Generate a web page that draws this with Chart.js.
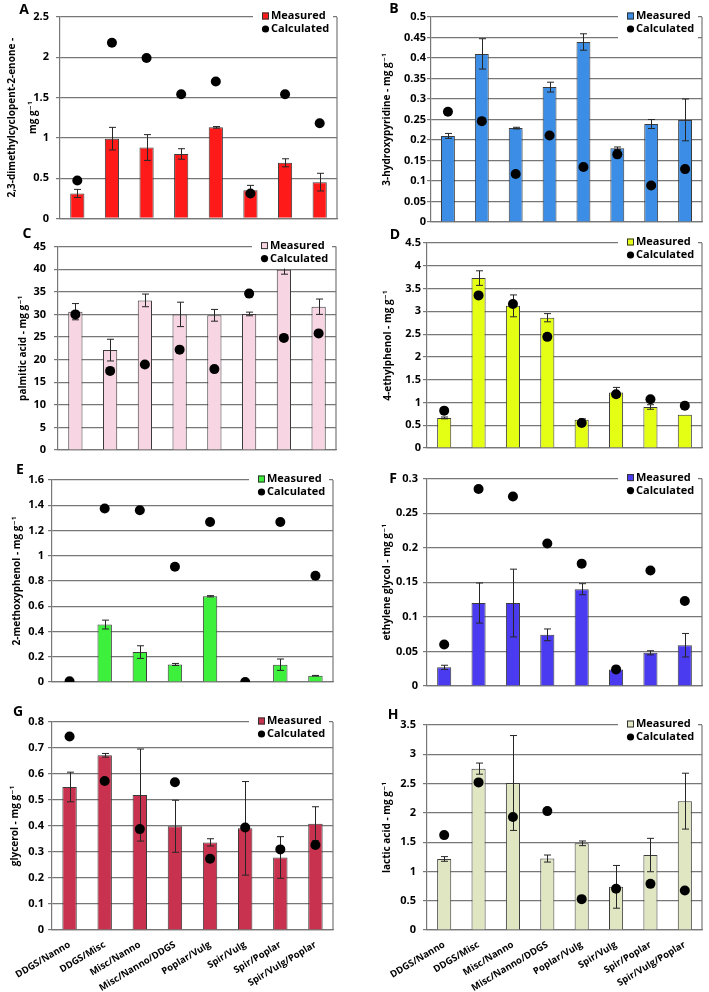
<!DOCTYPE html>
<html>
<head>
<meta charset="utf-8">
<script src="https://cdn.jsdelivr.net/npm/chart.js@4.4.0/dist/chart.umd.min.js"></script>
<style>
  body { margin: 0; background: #fff; }
  #page { position: relative; width: 709px; height: 992px; overflow: hidden; }
  canvas { position: absolute; }
  .tag { position: absolute; font: bold 14px "Open Sans", "DejaVu Sans", sans-serif; transform: translate(-50%, -50%); }
</style>
</head>
<body>
<div id="page"></div>
<script>
// blend categories (x axis)
const categories = ["DDGS/Nanno", "DDGS/Misc", "Misc/Nanno", "Misc/Nanno/DDGS",
  "Poplar/Vulg", "Spir/Vulg", "Spir/Poplar", "Spir/Vulg/Poplar"];

// A - 2,3-dimethylcyclopent-2-enone
const measuredA = [0.31, 0.99, 0.88, 0.80, 1.13, 0.35, 0.69, 0.45];
const errorA = [0.05, 0.14, 0.16, 0.065, 0.01, 0.06, 0.05, 0.11];
const calculatedA = [0.47, 2.18, 1.99, 1.54, 1.70, 0.31, 1.54, 1.18];

// B - 3-hydroxypyridine
const measuredB = [0.21, 0.41, 0.229, 0.329, 0.439, 0.18, 0.239, 0.249];
const errorB = [0.006, 0.037, 0.002, 0.012, 0.02, 0.003, 0.011, 0.051];
const calculatedB = [0.269, 0.246, 0.117, 0.211, 0.134, 0.165, 0.089, 0.129];

// C - palmitic acid
const measuredC = [30.6, 22.1, 33.1, 30.0, 29.8, 30.1, 39.9, 31.7];
const errorC = [1.8, 2.4, 1.4, 2.7, 1.3, 0.4, 1.0, 1.7];
const calculatedC = [30.0, 17.5, 18.9, 22.2, 17.9, 34.6, 24.8, 25.8];

// D - 4-ethylphenol
const measuredD = [0.66, 3.73, 3.12, 2.86, 0.62, 1.22, 0.90, 0.73];
const errorD = [0.02, 0.16, 0.24, 0.09, 0.02, 0.11, 0.05, 0];
const calculatedD = [0.82, 3.35, 3.16, 2.44, 0.55, 1.18, 1.07, 0.93];

// E - 2-methoxyphenol
const measuredE = [0, 0.455, 0.237, 0.139, 0.679, 0, 0.137, 0.05];
const errorE = [0, 0.035, 0.05, 0.008, 0.005, 0, 0.045, 0.002];
const calculatedE = [0.005, 1.374, 1.36, 0.913, 1.268, 0, 1.268, 0.842];

// F - ethylene glycol
const measuredF = [0.027, 0.12, 0.12, 0.074, 0.14, 0.024, 0.048, 0.059];
const errorF = [0.003, 0.029, 0.049, 0.0085, 0.008, 0.003, 0.003, 0.017];
const calculatedF = [0.06, 0.285, 0.274, 0.206, 0.177, 0.024, 0.167, 0.123];

// G - glycerol
const measuredG = [0.55, 0.672, 0.519, 0.399, 0.337, 0.391, 0.279, 0.409];
const errorG = [0.057, 0.007, 0.177, 0.1, 0.014, 0.18, 0.08, 0.065];
const calculatedG = [0.744, 0.573, 0.388, 0.568, 0.274, 0.394, 0.31, 0.327];

// H - lactic acid
const measuredH = [1.213, 2.755, 2.51, 1.22, 1.48, 0.737, 1.28, 2.2];
const errorH = [0.04, 0.095, 0.81, 0.06, 0.04, 0.365, 0.285, 0.477];
const calculatedH = [1.62, 2.52, 1.93, 2.03, 0.527, 0.703, 0.788, 0.675];

// y axis ranges
const yMax = { A: 2.5, B: 0.5, C: 45, D: 4.5, E: 1.6, F: 0.3, G: 0.8, H: 3.5 };
const yStep = { A: 0.5, B: 0.05, C: 5, D: 0.5, E: 0.2, F: 0.05, G: 0.1, H: 0.5 };

const FONT = '"Open Sans", "DejaVu Sans", sans-serif';
const GRID = "#777777";

// panel layout: canvas box + plot box (page pixels)
const panels = [
  { id: "A", m: measuredA, e: errorA, c: calculatedA, color: "#ff1a1a",
    title: ["2,3-dimethylcyclopent-2-enone -", "mg g\u207B\u00B9"], titleX: 12, titleLH: 21,
    box: [0, 0, 350, 232], plot: [60, 337, 17, 222], pad: 11, tag: [24, 8] },
  { id: "B", m: measuredB, e: errorB, c: calculatedB, color: "#3b8de6",
    title: "3-hydroxypyridine - mg g\u207B\u00B9", titleX: 37,
    box: [350, 0, 359, 232], plot: [431, 702, 17, 222], pad: 5, tag: [394, 7] },
  { id: "C", m: measuredC, e: errorC, c: calculatedC, color: "#f8d5e3",
    title: "palmitic acid - mg g\u207B\u00B9", titleX: 23,
    box: [0, 232, 350, 235], plot: [58, 336, 243, 450], pad: 12, tag: [27, 232] },
  { id: "D", m: measuredD, e: errorD, c: calculatedD, color: "#e4ff14",
    title: "4-ethylphenol - mg g\u207B\u00B9", titleX: 38,
    box: [350, 232, 359, 235], plot: [427, 702, 243, 448], pad: 6, tag: [395, 233] },
  { id: "E", m: measuredE, e: errorE, c: calculatedE, color: "#3cf03c",
    title: "2-methoxyphenol - mg g\u207B\u00B9", titleX: 17,
    box: [0, 467, 350, 238], plot: [52, 333, 480, 682], pad: 8, tag: [20, 468] },
  { id: "F", m: measuredF, e: errorF, c: calculatedF, color: "#4a3bf0",
    title: "ethylene glycol - mg g\u207B\u00B9", titleX: 37,
    box: [350, 467, 359, 238], plot: [427, 702, 476, 686], pad: 9, tag: [393, 477] },
  { id: "G", m: measuredG, e: errorG, c: calculatedG, color: "#c8324e",
    title: "glycerol - mg g\u207B\u00B9", titleX: 15,
    box: [0, 705, 350, 287], plot: [52, 333, 722, 930], pad: 8, tag: [18, 710], xLabels: true },
  { id: "H", m: measuredH, e: errorH, c: calculatedH, color: "#e0e5c2",
    title: "lactic acid - mg g\u207B\u00B9", titleX: 37,
    box: [350, 705, 359, 287], plot: [427, 702, 725, 930], pad: 11, tag: [393, 713], xLabels: true }
];

// error bars drawn right after the bar dataset, under the dots
const errorBars = {
  id: "errorBars",
  afterDatasetDraw(chart, args) {
    const ds = chart.data.datasets[args.index];
    if (!ds.errors) return;
    const y = chart.scales.y;
    const ctx = chart.ctx;
    ctx.save();
    ctx.strokeStyle = "#262626";
    ctx.lineWidth = 1;
    args.meta.data.forEach((bar, i) => {
      const err = ds.errors[i];
      if (!err) return;
      const x = Math.round(bar.x) + 0.5;
      const top = y.getPixelForValue(ds.data[i] + err);
      const bot = y.getPixelForValue(ds.data[i] - err);
      ctx.beginPath();
      ctx.moveTo(x, top); ctx.lineTo(x, bot);
      ctx.moveTo(x - 3.5, top); ctx.lineTo(x + 3.5, top);
      ctx.moveTo(x - 3.5, bot); ctx.lineTo(x + 3.5, bot);
      ctx.stroke();
    });
    ctx.restore();
  }
};

// right frame line + legend sitting on the top right corner of the plot
const cornerLegend = {
  id: "cornerLegend",
  afterDraw(chart) {
    const a = chart.chartArea;
    const ctx = chart.ctx;
    ctx.save();
    ctx.strokeStyle = GRID;
    ctx.lineWidth = 1.2;
    ctx.beginPath();
    ctx.moveTo(a.right, a.top); ctx.lineTo(a.right, a.bottom);
    ctx.stroke();

    ctx.fillStyle = "#fff";
    ctx.fillRect(a.right - 84, a.top - 8, 80, 30);

    const bars = chart.data.datasets[0];
    const dots = chart.data.datasets[1];
    const mx = a.right - 75;
    ctx.fillStyle = bars.backgroundColor;
    ctx.fillRect(mx, a.top - 4.5, 7, 7);
    ctx.strokeStyle = "#333";
    ctx.lineWidth = 1;
    ctx.strokeRect(mx + 0.5, a.top - 4, 6, 6);
    ctx.fillStyle = "#000";
    ctx.beginPath();
    ctx.arc(mx + 3.5, a.top + 12, 3.6, 0, Math.PI * 2);
    ctx.fill();

    ctx.font = "bold 11px " + FONT;
    ctx.textBaseline = "middle";
    ctx.fillText(bars.label, mx + 9, a.top - 1);
    ctx.fillText(dots.label, mx + 9, a.top + 12);
    ctx.restore();
  }
};

const page = document.getElementById("page");

panels.forEach(p => {
  const [cx, cy, cw, ch] = p.box;
  const [l, r, t, b] = p.plot;

  const canvas = document.createElement("canvas");
  canvas.width = cw;
  canvas.height = ch;
  canvas.style.left = cx + "px";
  canvas.style.top = cy + "px";
  page.appendChild(canvas);

  const tag = document.createElement("div");
  tag.className = "tag";
  tag.textContent = p.id;
  tag.style.left = p.tag[0] + "px";
  tag.style.top = p.tag[1] + "px";
  page.appendChild(tag);

  const lh = p.titleLH || 13;

  new Chart(canvas.getContext("2d"), {
    type: "bar",
    data: {
      labels: categories,
      datasets: [
        {
          type: "bar",
          label: "Measured",
          data: p.m,
          errors: p.e,
          backgroundColor: p.color,
          borderColor: "#3c3c3c",
          borderWidth: 1,
          barPercentage: 0.41,
          categoryPercentage: 1,
          order: 2
        },
        {
          type: "line",
          label: "Calculated",
          data: p.c,
          showLine: false,
          pointRadius: 5,
          pointBackgroundColor: "#000",
          pointBorderColor: "#000",
          pointBorderWidth: 0,
          order: 1
        }
      ]
    },
    options: {
      responsive: false,
      animation: false,
      devicePixelRatio: 1,
      layout: { padding: { left: 0, right: cx + cw - r, top: t - cy, bottom: 0 } },
      plugins: { legend: { display: false }, tooltip: { enabled: false } },
      scales: {
        x: {
          grid: { display: false },
          border: { display: true, color: GRID, width: 1.2 },
          ticks: {
            display: !!p.xLabels,
            autoSkip: false,
            minRotation: 31,
            maxRotation: 31,
            padding: 1,
            color: "#000",
            font: { family: FONT, size: 9.5, weight: "bold" }
          },
          afterFit: s => { s.height = cy + ch - b; }
        },
        y: {
          min: 0,
          max: yMax[p.id],
          grid: { color: GRID, lineWidth: 1.2, tickLength: 4, tickColor: GRID },
          border: { display: true, color: GRID, width: 1.2 },
          ticks: {
            stepSize: yStep[p.id],
            padding: p.pad - 4,
            color: "#000",
            font: { family: FONT, size: 11, weight: "bold" },
            callback: v => String(Math.round(v * 1000) / 1000)
          },
          title: {
            display: true,
            text: p.title,
            color: "#000",
            padding: { top: p.titleX - lh / 2, bottom: 0 },
            font: { family: FONT, size: 10, weight: "bold", lineHeight: lh + "px" }
          },
          afterFit: s => { s.width = l - cx; }
        }
      }
    },
    plugins: [errorBars, cornerLegend]
  });
});
</script>
</body>
</html>
